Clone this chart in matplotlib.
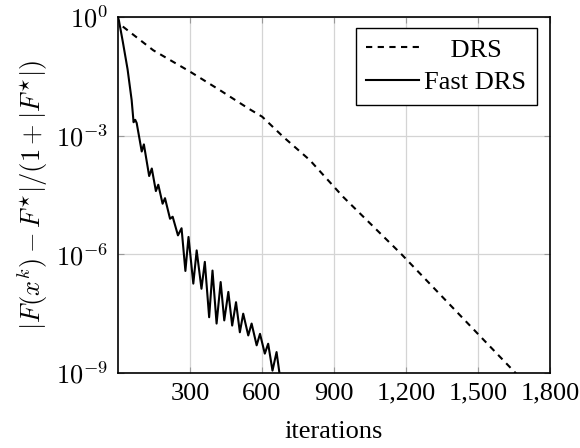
import numpy as np
import matplotlib
matplotlib.use("Agg")
import matplotlib.pyplot as plt
from matplotlib.ticker import FixedLocator, FuncFormatter, NullLocator

plt.rcParams["font.family"] = ["Liberation Serif", "DejaVu Serif"]
plt.rcParams["mathtext.fontset"] = "cm"
plt.rcParams["font.size"] = 19

# DRS (dashed) -- iteration, log10 of relative error
drs_iter  = [20, 147, 300, 425, 543, 601, 689, 800, 939, 1182, 1500, 1665]
drs_log10 = [-0.24, -0.84, -1.38, -1.85, -2.31, -2.52, -3.03, -3.62, -4.55, -6.0, -8.01, -9.05]

# Fast DRS (solid), peaks and troughs
fast_iter = [0, 4, 20, 40, 57, 65, 72, 78, 99, 108, 130, 141, 158, 168, 186, 196,
             217, 228, 250, 265, 281, 294, 314, 328, 348, 362, 380, 394, 411,
             428, 443, 460, 476, 492, 508, 522, 543, 557, 578, 592, 612, 626,
             644, 661, 682]
fast_log10 = [0.0, -0.09, -0.62, -1.32, -2.1, -2.66, -2.6, -2.68, -3.40, -3.22,
              -4.02, -3.83, -4.40, -4.24, -4.72, -4.58, -5.10, -5.05, -5.52,
              -5.34, -6.42, -5.56, -6.74, -5.90, -6.87, -6.19, -7.59, -6.41,
              -7.75, -6.70, -7.67, -6.95, -7.80, -7.21, -7.97, -7.50, -8.05,
              -7.75, -8.30, -8.01, -8.51, -8.26, -8.94, -8.47, -9.4]

x_ticks = [300, 600, 900, 1200, 1500, 1800]
y_ticks = [1e-9, 1e-6, 1e-3, 1e0]

fig = plt.figure(figsize=(5.8, 4.48), dpi=100)
ax = fig.add_axes([0.2034, 0.1674, 0.7446, 0.7946])

ax.plot(drs_iter, 10.0 ** np.array(drs_log10), color="black", lw=1.5,
        dashes=(3.0, 2.6), label="    DRS")
ax.plot(fast_iter, 10.0 ** np.array(fast_log10), color="black", lw=1.5,
        label="Fast DRS")

ax.set_yscale("log")
ax.set_xlim(0, 1800)
ax.set_ylim(1e-9, 1e0)

ax.xaxis.set_major_locator(FixedLocator(x_ticks))
ax.xaxis.set_major_formatter(FuncFormatter(lambda v, p: f"{v:,.0f}"))
ax.yaxis.set_major_locator(FixedLocator(y_ticks))
ax.yaxis.set_major_formatter(
    FuncFormatter(lambda v, p: r"$10^{%d}$" % int(round(np.log10(v)))))
ax.yaxis.set_minor_locator(NullLocator())

ax.tick_params(direction="in", length=4, width=0.8, color="#999999",
               top=True, right=True, pad=7)
ax.grid(True, color="#d4d4d4", lw=0.9)
ax.set_axisbelow(True)
for s in ax.spines.values():
    s.set_linewidth(1.2)

ax.set_xlabel("iterations", labelpad=12)
ax.set_ylabel(r"$|F(x^k) - F^{\star}|/(1 + |F^{\star}|)$", labelpad=4)

leg = ax.legend(loc="upper right", bbox_to_anchor=(0.97, 0.97),
                fancybox=False, edgecolor="black", framealpha=1,
                handlelength=2.0, handletextpad=0.2, labelspacing=0.35,
                borderpad=0.4, borderaxespad=0)
leg.get_frame().set_linewidth(1.0)

fig.savefig("out.png", dpi=100)
